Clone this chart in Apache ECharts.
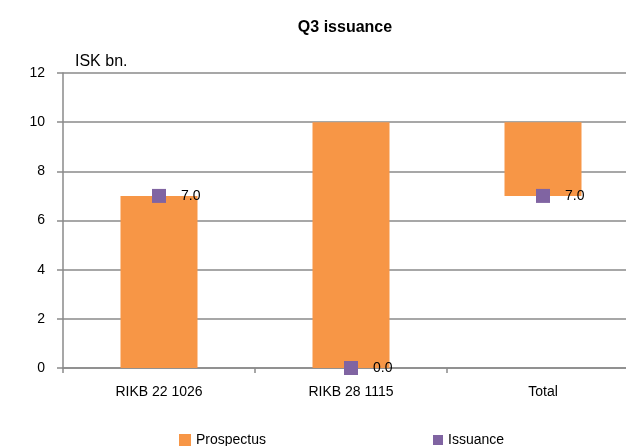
<!DOCTYPE html>
<html>
<head>
<meta charset="utf-8">
<script src="https://cdn.jsdelivr.net/npm/echarts@6/dist/echarts.min.js"></script>
<style>
  html, body { margin: 0; padding: 0; background: #fff; }
  #chart { width: 626px; height: 446px; }
</style>
</head>
<body>
<div id="chart"></div>
<script>
// chart data
const categories = ["RIKB 22 1026", "RIKB 28 1115", "Total"];
const prospectusBase = [0, 0, 7];   // invisible offset so Total floats
const prospectus = [7, 10, 3];      // visible bar height
const issuance = [7.0, 0.0, 7.0];
const yTicks = { min: 0, max: 12, step: 2 };

const font = "Liberation Sans";
const gridColor = "#8a8a8a";

let myChart = echarts.init(document.getElementById("chart"));
myChart.setOption({
  animation: false,
  textStyle: { fontFamily: font },
  title: [
    {
      text: "Q3 issuance",
      left: 340,
      top: 15,
      textAlign: "center",
      textStyle: { fontSize: 16, fontWeight: "bold", color: "#000", fontFamily: font }
    },
    {
      text: "ISK bn.",
      left: 70,
      top: 49,
      textStyle: { fontSize: 16, fontWeight: "normal", color: "#000", fontFamily: font }
    }
  ],
  legend: [
    {
      data: ["Prospectus"],
      left: 174,
      top: 428,
      icon: "rect",
      itemWidth: 12,
      itemHeight: 12,
      itemGap: 4,
      textStyle: { fontSize: 14, color: "#000", fontFamily: font }
    },
    {
      data: ["Issuance"],
      left: 428,
      top: 428,
      icon: "rect",
      itemWidth: 10,
      itemHeight: 10,
      textStyle: { fontSize: 14, color: "#000", fontFamily: font }
    }
  ],
  grid: {
    left: 63,
    top: 73,
    width: 576,
    bottom: 78,
    containLabel: false,
    outerBoundsMode: "none"
  },
  xAxis: {
    type: "category",
    data: categories,
    axisLine: { lineStyle: { color: gridColor, width: 1.5 } },
    axisTick: { show: true, length: 5, lineStyle: { color: gridColor, width: 1.5 } },
    axisLabel: { color: "#000", fontSize: 14, margin: 17, fontFamily: font }
  },
  yAxis: {
    type: "value",
    min: yTicks.min,
    max: yTicks.max,
    interval: yTicks.step,
    axisLine: { show: true, lineStyle: { color: gridColor, width: 1.5 } },
    axisTick: { show: true, length: 6, lineStyle: { color: gridColor, width: 1.5 } },
    axisLabel: { color: "#000", fontSize: 14, margin: 18, fontFamily: font },
    splitLine: { lineStyle: { color: gridColor, width: 1.5 } }
  },
  series: [
    {
      name: "base",
      type: "bar",
      stack: "p",
      data: prospectusBase,
      barWidth: 77,
      itemStyle: { color: "transparent" },
      silent: true
    },
    {
      name: "Prospectus",
      type: "bar",
      stack: "p",
      data: prospectus,
      barWidth: 77,
      itemStyle: { color: "#F79646" }
    },
    {
      name: "Issuance",
      type: "scatter",
      data: issuance,
      symbol: "rect",
      symbolSize: 14,
      itemStyle: { color: "#8064A2", opacity: 1 },
      z: 5,
      label: {
        show: true,
        position: "right",
        distance: 15,
        color: "#000",
        opacity: 1,
        fontSize: 14,
        fontFamily: font,
        formatter: function (p) {
          return p.value.toFixed(1);
        }
      }
    }
  ]
});
</script>
</body>
</html>
